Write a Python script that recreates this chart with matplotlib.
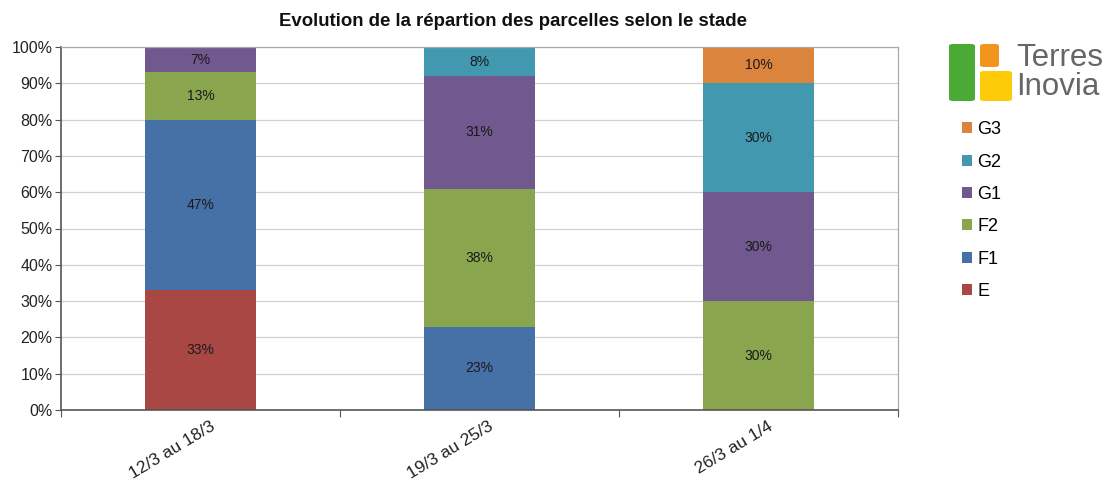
import matplotlib.pyplot as plt
import numpy as np
from matplotlib.patches import FancyBboxPatch, Patch
from matplotlib.transforms import ScaledTranslation

plt.rcParams['font.family'] = ['Liberation Sans', 'DejaVu Sans']

periods = ['12/3 au 18/3', '19/3 au 25/3', '26/3 au 1/4']
stages = ['E', 'F1', 'F2', 'G1', 'G2', 'G3']
E = [33, 0, 0]
F1 = [47, 23, 0]
F2 = [13, 38, 30]
G1 = [7, 31, 30]
G2 = [0, 8, 30]
G3 = [0, 0, 10]
colors = ['#A94745', '#4671A6', '#89A54E', '#71588F', '#4198AF', '#DB843D']

W, H = 1107, 483
fig = plt.figure(figsize=(W / 100, H / 100), dpi=100)

def fx(px):
    return px / W

def fy(py):
    return 1 - py / H

ax = fig.add_axes([fx(61), fy(410), fx(898) - fx(61), fy(47) - fy(410)])

x = np.arange(len(periods))
bottom = np.zeros(len(periods))
for name, vals, col in zip(stages, [E, F1, F2, G1, G2, G3], colors):
    vals = np.array(vals, dtype=float)
    ax.bar(x, vals, 0.4, bottom=bottom, color=col, zorder=2)
    for i in range(len(periods)):
        if vals[i] > 0:
            ax.text(x[i], bottom[i] + vals[i] / 2, '%d%%' % vals[i],
                    ha='center', va='center', fontsize=10, color='#1a1a1a', zorder=3)
    bottom += vals

ax.set_xlim(-0.5, 2.5)
ax.set_ylim(0, 100)
ax.set_yticks(np.arange(0, 101, 10))
ax.set_yticklabels(['%d%%' % v for v in range(0, 101, 10)], fontsize=11.5, color='#222222')
ax.yaxis.grid(True, color='#d0d0d0', linewidth=0.9, zorder=0)
ax.set_axisbelow(True)

ax.set_xticks([-0.5, 0.5, 1.5, 2.5])
ax.set_xticklabels([])
ax.set_xticks(x, minor=True)
ax.set_xticklabels(periods, minor=True, rotation=31, ha='right', va='top',
                   rotation_mode='anchor', fontsize=12.5, color='#222222')
ax.tick_params(axis='x', which='minor', length=0, pad=6)
ax.tick_params(axis='x', which='major', length=5, color='#555555', direction='out')
ax.tick_params(axis='y', length=4, color='#555555', direction='out', pad=2)
shift = ScaledTranslation(0.09, 0, fig.dpi_scale_trans)
for lab in ax.get_xticklabels(minor=True):
    lab.set_transform(lab.get_transform() + shift)

for s in ['left', 'bottom']:
    ax.spines[s].set_color('#555555')
    ax.spines[s].set_linewidth(1.2)
for s in ['top', 'right']:
    ax.spines[s].set_color('#aaaaaa')
    ax.spines[s].set_linewidth(0.9)

fig.text(fx(513), fy(22), 'Evolution de la répartion des parcelles selon le stade',
         ha='center', va='center', fontsize=13.4, fontweight='bold', color='#111111')

# legend
handles = [Patch(facecolor=c, edgecolor='none', label=s) for s, c in zip(stages, colors)][::-1]
leg = fig.legend(handles=handles, loc='upper left', bbox_to_anchor=(fx(955), fy(114)),
                 frameon=False, fontsize=13, handlelength=0.55, handleheight=0.55,
                 handletextpad=0.3, labelspacing=0.85, borderaxespad=0)

# logo
def box(x0, y0, x1, y1, col):
    p = FancyBboxPatch((fx(x0), fy(y1)), fx(x1) - fx(x0), fy(y0) - fy(y1),
                       boxstyle='round,pad=0,rounding_size=0.004', transform=fig.transFigure,
                       facecolor=col, edgecolor='none')
    fig.patches.append(p)

box(949, 44, 975, 101, '#4BAA36')
box(980, 44, 999, 67, '#F1951E')
box(980, 71, 1012, 101, '#FDCB0A')
fig.text(fx(1016), fy(58), 'Terres', ha='left', va='center', fontsize=22.5, color='#666666')
fig.text(fx(1016), fy(87), 'Inovia', ha='left', va='center', fontsize=22.5, color='#666666')

fig.savefig('out.png', dpi=100)
